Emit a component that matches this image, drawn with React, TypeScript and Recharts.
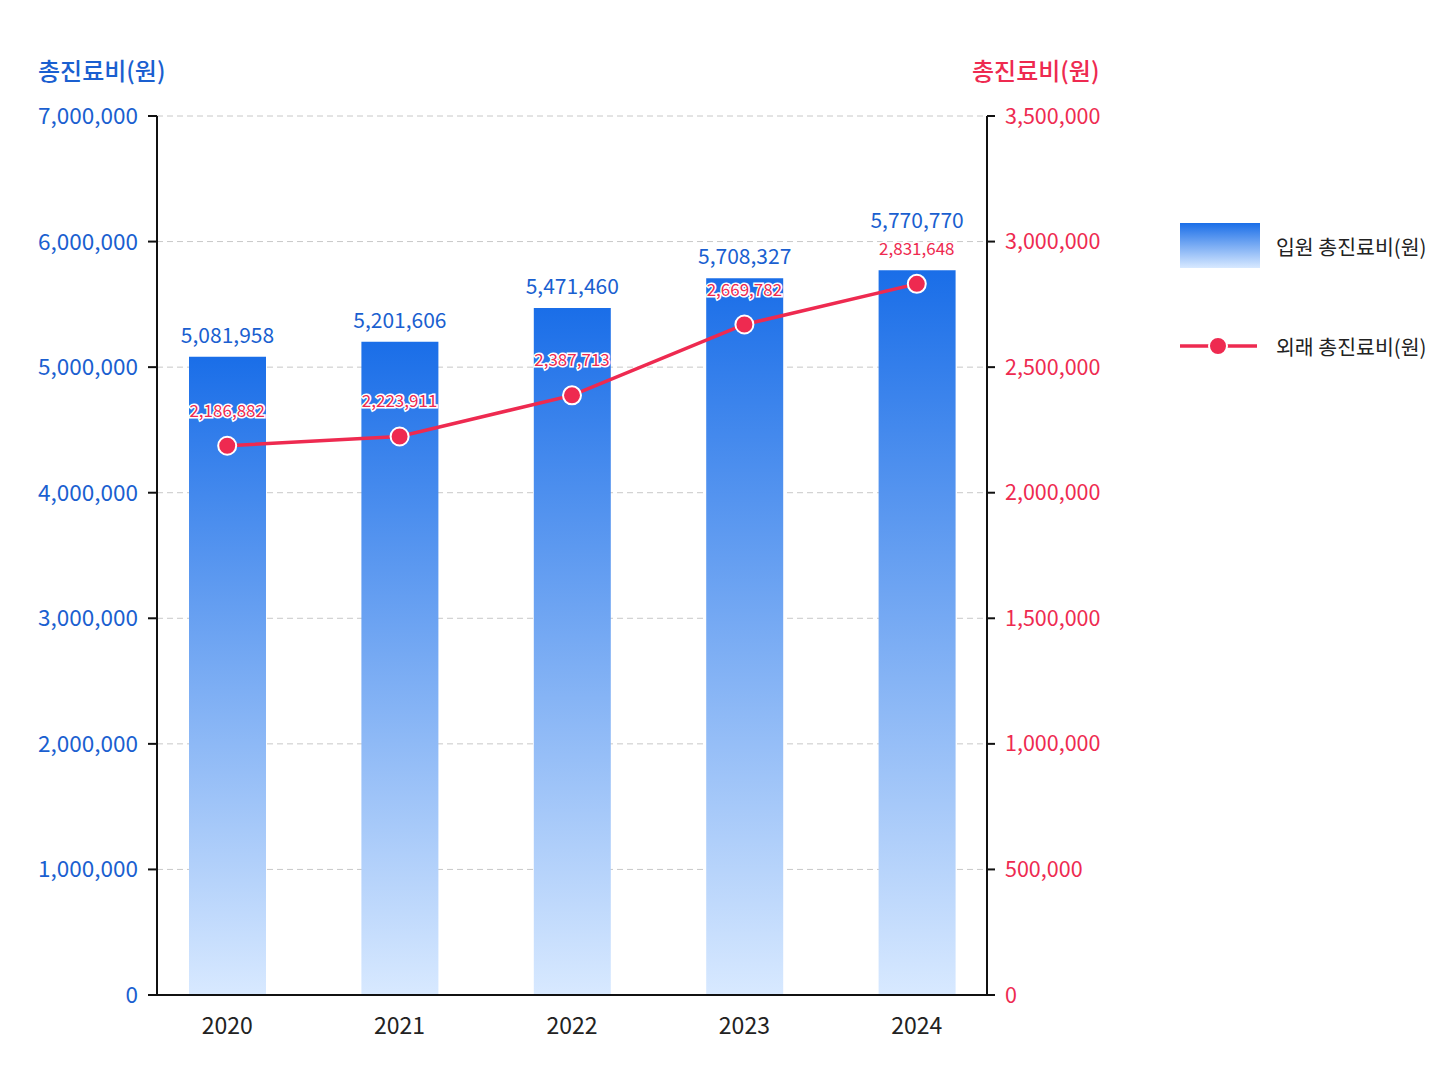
import React from 'react';
import {
  ComposedChart,
  Bar,
  Line,
  XAxis,
  YAxis,
  CartesianGrid,
  LabelList,
} from 'recharts';

const years = ['2020', '2021', '2022', '2023', '2024'];
const inpatient = [5081958, 5201606, 5471460, 5708327, 5770770];
const outpatient = [2186882, 2223911, 2387713, 2669782, 2831648];
const leftTicks = [0, 1000000, 2000000, 3000000, 4000000, 5000000, 6000000, 7000000];
const rightTicks = [0, 500000, 1000000, 1500000, 2000000, 2500000, 3000000, 3500000];

const BLUE = '#1a5fd0';
const RED = '#ee2a50';
const FONT = "'Noto Sans CJK KR', 'Noto Sans', sans-serif";

const data = years.map((year, i) => ({
  year,
  inpatient: inpatient[i],
  outpatient: outpatient[i],
}));

const fmt = (v: number) => v.toLocaleString('en-US');

const LeftTitle = (props: any) => {
  const { viewBox } = props;
  return (
    <text x={viewBox.x + 30} y={72} fill={BLUE} fontSize={24} fontWeight={500} fontFamily={FONT}>
      총진료비(원)
    </text>
  );
};

const RightTitle = (props: any) => {
  const { viewBox } = props;
  return (
    <text x={viewBox.x - 15} y={72} fill={RED} fontSize={24} fontWeight={500} fontFamily={FONT}>
      총진료비(원)
    </text>
  );
};

// blue value label: sits above the bar, pushed up if the red label is in the way
const BlueLabel = (props: any) => {
  const { x, y, width, height, value, index } = props;
  const perUnit = height / value;
  const lineY = y + height - outpatient[index] * perUnit * 2;
  const baseline = Math.min(y - 14, lineY - 56);
  return (
    <text
      x={x + width / 2}
      y={baseline}
      textAnchor="middle"
      fill={BLUE}
      fontSize={21}
      fontFamily={FONT}
    >
      {fmt(value)}
    </text>
  );
};

const RedLabel = (props: any) => {
  const { x, y, value } = props;
  return (
    <text
      x={x}
      y={y - 29}
      textAnchor="middle"
      fill={RED}
      stroke="#fff"
      strokeWidth={3}
      paintOrder="stroke"
      fontSize={17}
      fontFamily={FONT}
    >
      {fmt(value)}
    </text>
  );
};

export default function App() {
  return (
    <div style={{ position: 'relative', width: 1432, height: 1070, fontFamily: FONT, background: '#fff' }}>
      <ComposedChart
        width={1110}
        height={1070}
        data={data}
        margin={{ top: 108, right: 11, bottom: 23, left: 0 }}
      >
        <defs>
          <linearGradient id="barFill" x1="0" y1="0" x2="0" y2="1">
            <stop offset="0%" stopColor="#1a6ee8" />
            <stop offset="100%" stopColor="#d8e9ff" />
          </linearGradient>
        </defs>
        <CartesianGrid yAxisId="left" vertical={false} stroke="#c8c8c8" strokeDasharray="6 4" />
        <XAxis
          dataKey="year"
          padding={{ left: -16, right: -16 }}
          height={60}
          tickLine={false}
          axisLine={{ stroke: '#111', strokeWidth: 2 }}
          tick={{ fill: '#222', fontSize: 23, fontFamily: FONT }}
          tickMargin={17}
        />
        <YAxis
          yAxisId="left"
          width={149}
          domain={[0, 7000000]}
          ticks={leftTicks}
          tickFormatter={fmt}
          axisLine={{ stroke: '#111', strokeWidth: 2 }}
          tickLine={{ stroke: '#111', strokeWidth: 2 }}
          tickSize={9}
          tickMargin={10}
          tick={{ fill: BLUE, fontSize: 22.5, fontFamily: FONT }}
          label={{ content: <LeftTitle /> }}
        />
        <YAxis
          yAxisId="right"
          orientation="right"
          width={120}
          domain={[0, 3500000]}
          ticks={rightTicks}
          tickFormatter={fmt}
          axisLine={{ stroke: '#111', strokeWidth: 2 }}
          tickLine={{ stroke: '#111', strokeWidth: 2 }}
          tickSize={8}
          tickMargin={10}
          tick={{ fill: RED, fontSize: 21.5, fontFamily: FONT }}
          label={{ content: <RightTitle /> }}
        />
        <Bar yAxisId="left" dataKey="inpatient" barSize={77} fill="url(#barFill)" isAnimationActive={false}>
          <LabelList dataKey="inpatient" content={<BlueLabel />} />
        </Bar>
        <Line
          yAxisId="right"
          dataKey="outpatient"
          stroke={RED}
          strokeWidth={3.5}
          dot={{ r: 9, fill: RED, stroke: '#fff', strokeWidth: 2 }}
          isAnimationActive={false}
        >
          <LabelList dataKey="outpatient" content={<RedLabel />} />
        </Line>
      </ComposedChart>

      <div style={{ position: 'absolute', left: 1172, top: 215, fontSize: 20.5, color: '#222' }}>
        <div style={{ display: 'flex', alignItems: 'center', height: 45 }}>
          <div
            style={{
              width: 80,
              height: 45,
              background: 'linear-gradient(#1a6ee8, #d8e9ff)',
              marginRight: 16,
            }}
          />
          <span>입원 총진료비(원)</span>
        </div>
        <div style={{ display: 'flex', alignItems: 'center', height: 45, marginTop: 55 }}>
          <svg width={80} height={24} style={{ marginRight: 16 }}>
            <line x1={0} y1={12} x2={77} y2={12} stroke={RED} strokeWidth={3.5} />
            <circle cx={38} cy={12} r={9} fill={RED} stroke="#fff" strokeWidth={2} />
          </svg>
          <span>외래 총진료비(원)</span>
        </div>
      </div>
    </div>
  );
}
